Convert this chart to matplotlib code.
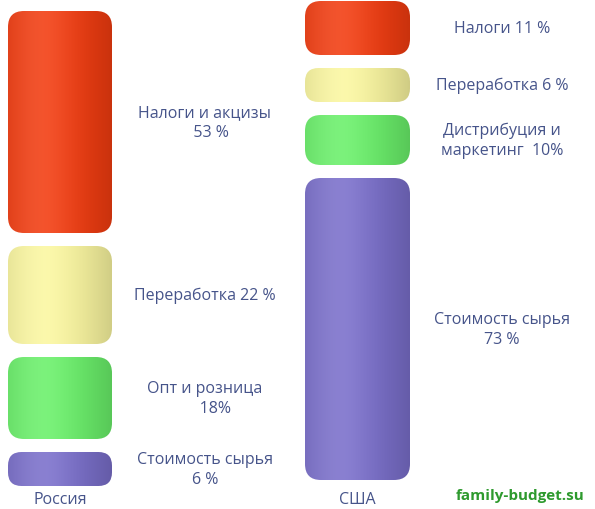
import numpy as np
import matplotlib.pyplot as plt
from matplotlib.patches import FancyBboxPatch
from matplotlib.colors import to_rgb

# bottom to top
ru_values = [6, 18, 22, 53]
ru_labels = ["Стоимость сырья\n6 %", "Опт и розница\n     18%", "Переработка 22 %", "Налоги и акцизы\n   53 %"]
us_values = [73, 10, 6, 11]
us_labels = ["Стоимость сырья\n73 %", "Дистрибуция и\nмаркетинг  10%", "Переработка 6 %", "Налоги 11 %"]
colors = ["#7a6fcb", "#6af06a", "#fbf7a0", "#f23c10"]

TXT = "#46548a"
PX_PER = 4.0
MIN_H = 10
GAP = 13

fig = plt.figure(figsize=(5.95, 5.10), dpi=100)
ax = fig.add_axes([0, 0, 1, 1])
ax.set_xlim(0, 595)
ax.set_ylim(510, 0)
ax.axis("off")


def draw_bar(x0, w, y_bottom, h, color):
    r = min(16, h / 2.5)
    patch = FancyBboxPatch((x0 + r, y_bottom - h + r), w - 2 * r, h - 2 * r,
                           boxstyle=f"round,pad={r}", linewidth=0,
                           facecolor="none")
    ax.add_patch(patch)
    base = np.array(to_rgb(color))
    t = np.linspace(0, 1, 100)
    shade = 1 - 0.25 * np.abs(t - 0.4) ** 1.5 * 2
    light = np.clip(base * shade[:, None], 0, 1)
    hl = np.exp(-((t - 0.35) / 0.25) ** 2)[:, None] * 0.12
    light = np.clip(light + hl * (1 - light), 0, 1)
    img = np.tile(light[None, :, :], (2, 1, 1))
    im = ax.imshow(img, extent=(x0 - r, x0 + w + r, y_bottom, y_bottom - h),
                   aspect="auto", zorder=2)
    im.set_clip_path(patch)


def draw_column(values, labels, x0, w, lx, y_base):
    y = y_base
    for v, lab, c in zip(values, labels, colors):
        h = v * PX_PER + MIN_H
        draw_bar(x0, w, y, h, c)
        ax.text(lx, y - h / 2, lab, ha="center", va="center", color=TXT,
                fontsize=11.5, family="Open Sans", linespacing=1.3)
        y -= h + GAP


draw_column(ru_values, ru_labels, 8, 104, 205, 487)
draw_column(us_values, us_labels, 305, 105, 502, 481)

ax.text(60, 500, "Россия", ha="center", va="center", color=TXT, fontsize=11.5, family="Open Sans")
ax.text(357, 500, "США", ha="center", va="center", color=TXT, fontsize=11.5, family="Open Sans")
ax.text(520, 496, "family-budget.su", ha="center", va="center", color="#2e9a2e",
        fontsize=11, fontweight="bold", family="Open Sans")

fig.savefig("out.png", dpi=100)
